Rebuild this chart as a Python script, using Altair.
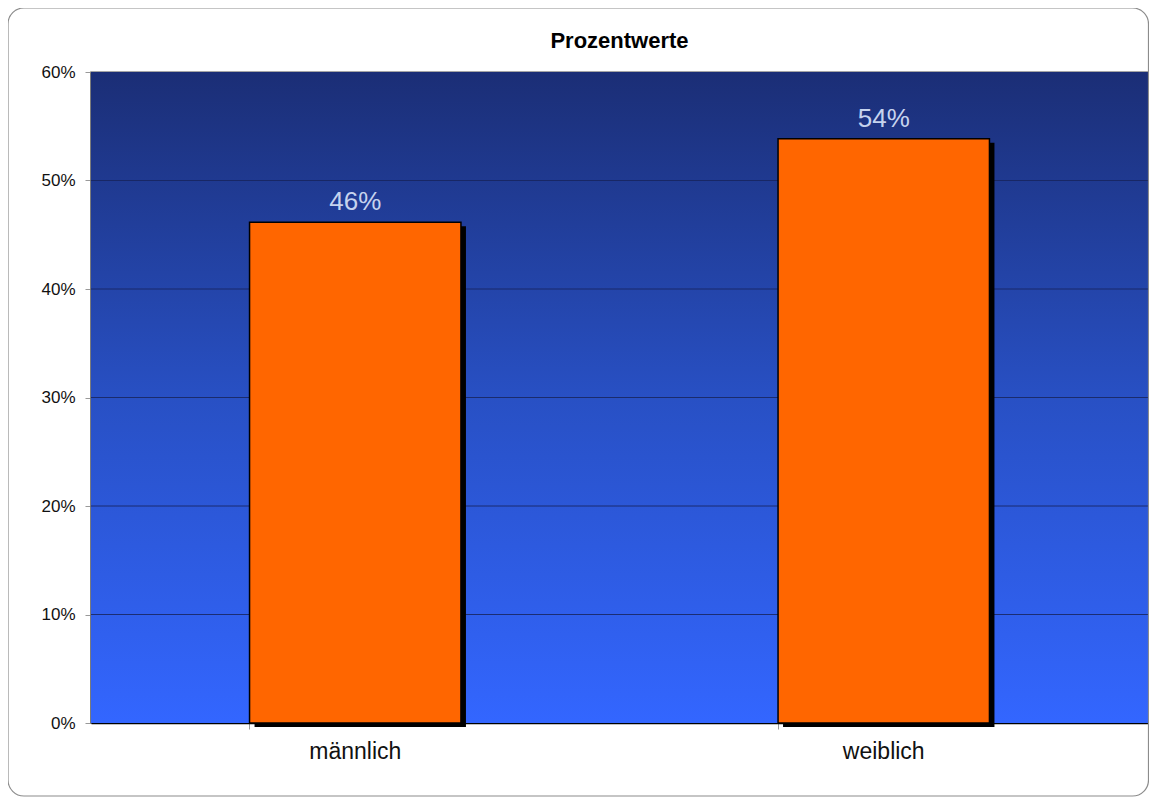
import altair as alt
import pandas as pd

categories = ["männlich", "weiblich"]
values = [0.4615, 0.5385]
y_ticks = [0, 0.1, 0.2, 0.3, 0.4, 0.5, 0.6]

df = pd.DataFrame({"Geschlecht": categories, "Anteil": values})
grid_df = pd.DataFrame({"Anteil": y_ticks[1:-1]})

W, H = 1057, 651
PAD = {"left": 83, "top": 64, "right": 1, "bottom": 74}

x_enc = alt.X("Geschlecht:N", sort=categories, title=None,
              scale=alt.Scale(paddingInner=0.6, paddingOuter=0.3),
              axis=alt.Axis(labelAngle=0, labelFontSize=23, labelColor="#111111",
                            labelPadding=11, tickColor="#999999", tickSize=6,
                            bandPosition=0, domainColor="#000000", domainWidth=1.5,
                            grid=False, labelFont="Liberation Sans"))
y_scale = alt.Scale(domain=[0, 0.6], nice=False)
y_axis = alt.Axis(values=y_ticks, format=".0%", labelFontSize=17,
                  labelColor="#111111", labelPadding=10,
                  tickColor="#999999", tickSize=6,
                  domainColor="#000000", domainWidth=1.5,
                  grid=False, labelFont="Liberation Sans")
y_enc = alt.Y("Anteil:Q", title=None, scale=y_scale, axis=y_axis)

base = alt.Chart(df)

gradient = alt.LinearGradient(gradient="linear", x1=0, x2=0, y1=0, y2=1,
                              stops=[alt.GradientStop(color="#1b2e76", offset=0),
                                     alt.GradientStop(color="#2850c4", offset=0.5),
                                     alt.GradientStop(color="#3366ff", offset=1)])

background = base.mark_rect(fill=gradient).encode(
    x=alt.value(0), x2=alt.value(W), y=alt.value(0), y2=alt.value(H)
).transform_filter(alt.datum.Geschlecht == categories[0])

grid = alt.Chart(grid_df).mark_rule(color="#17245e", strokeWidth=1, opacity=0.85).encode(
    y=alt.Y("Anteil:Q", title=None, scale=y_scale, axis=y_axis))

frame = base.mark_rect(fill=None, stroke="#8c8c8c", strokeWidth=1.2,
                       cornerRadius=16, clip=False).encode(
    x=alt.value(-83), x2=alt.value(W + 0.5),
    y=alt.value(-64), y2=alt.value(H + 73)
).transform_filter(alt.datum.Geschlecht == categories[0])

shadow = base.mark_bar(color="#000000", xOffset=5, yOffset=4, y2Offset=4).encode(
    x=x_enc, y=y_enc, y2=alt.datum(0))

bars = base.mark_bar(color="#ff6600", stroke="#000000", strokeWidth=1.5).encode(
    x=x_enc, y=y_enc)

labels = base.mark_text(dy=-12, baseline="alphabetic", fontSize=26,
                        color="#c6d3ee", font="Liberation Sans").encode(
    x=x_enc, y=y_enc, text=alt.Text("Anteil:Q", format=".0%"))

chart = alt.layer(background, grid, shadow, bars, labels, frame).properties(
    width=W, height=H,
    title=alt.TitleParams("Prozentwerte", fontSize=22, fontWeight="bold",
                          font="Liberation Sans", color="#000000", anchor="middle",
                          baseline="alphabetic", offset=0, dy=63),
    autosize=alt.AutoSizeParams(type="none"),
    padding=PAD,
).configure_view(stroke="#888888", strokeWidth=1.5)

chart.save("out.html", embed_options={"renderer": "svg", "actions": False})
